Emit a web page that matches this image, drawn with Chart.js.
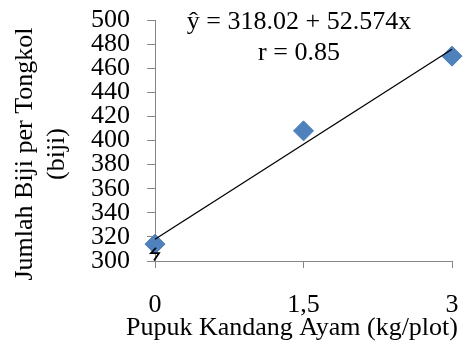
<!DOCTYPE html>
<html lang="id">
<head>
  <meta charset="UTF-8">
  <title>Jumlah Biji per Tongkol</title>
  <style>
    body {
      margin: 0;
      padding: 0;
      background-color: #fff;
    }

    .chart-container {
      width: 466px;
      height: 343px;
    }
  </style>
</head>
<body>

  <div class="chart-container">
    <canvas id="seedChart" width="466" height="343"></canvas>
  </div>

  <script src="https://cdn.jsdelivr.net/npm/chart.js"></script>
  <script>
    // data
    const doses = [0, 1.5, 3];
    const seedCounts = [314, 408, 470];
    const xTickLabels = ['0', '1,5', '3'];
    const trendX = [0, 3];
    const trendY = [318.02, 475.74];
    const equationLines = ['ŷ = 318.02 + 52.574x', 'r = 0.85'];
    const xTitle = 'Pupuk Kandang Ayam (kg/plot)';
    const yTitle = ['Jumlah Biji per Tongkol', '(biji)'];

    const serif = '"Liberation Serif", "Times New Roman", serif';
    const axisGray = '#868686';

    // titles, regression text and the axis break mark
    const annotations = {
      id: 'annotations',
      afterDraw(chart) {
        const ctx = chart.ctx;
        const yScale = chart.scales.y;
        const axisX = chart.chartArea.left;

        ctx.save();
        ctx.fillStyle = '#000';
        ctx.font = '26px ' + serif;
        ctx.textAlign = 'center';
        ctx.textBaseline = 'middle';

        ctx.fillText(equationLines[0], 299, 22);
        ctx.fillText(equationLines[1], 299, 53);

        ctx.fillText(xTitle, 292, 328);

        ctx.translate(25, 154);
        ctx.rotate(-Math.PI / 2);
        ctx.fillText(yTitle[0], 0, 0);
        ctx.fillText(yTitle[1], 0, 32);
        ctx.restore();

        // axis break zigzag
        ctx.save();
        ctx.strokeStyle = '#000';
        ctx.lineWidth = 1.8;
        ctx.lineJoin = 'miter';
        ctx.beginPath();
        ctx.moveTo(axisX + 1, yScale.getPixelForValue(311));
        ctx.lineTo(axisX - 4, yScale.getPixelForValue(306.5));
        ctx.lineTo(axisX + 4, yScale.getPixelForValue(306.5));
        ctx.lineTo(axisX - 1, yScale.getPixelForValue(300.5));
        ctx.stroke();
        ctx.restore();
      }
    };

    // fixed box sizes, no extra label padding from the scales
    function fixBox(size, isX) {
      return scale => {
        if (isX) scale.height = size; else scale.width = size;
        scale.paddingTop = 0;
        scale.paddingBottom = 0;
        scale.paddingLeft = 0;
        scale.paddingRight = 0;
      };
    }

    const ctx = document.getElementById('seedChart').getContext('2d');
    new Chart(ctx, {
      type: 'scatter',
      data: {
        datasets: [{
          type: 'line',
          data: trendX.map((x, i) => ({ x: x, y: trendY[i] })),
          borderColor: '#000',
          borderWidth: 1.3,
          pointRadius: 0,
          fill: false,
          clip: false,
          order: 0
        }, {
          data: doses.map((x, i) => ({ x: x, y: seedCounts[i] })),
          pointStyle: 'rectRot',
          pointRadius: 10,
          backgroundColor: '#4F81BD',
          borderColor: '#4A7EBB',
          borderWidth: 1,
          clip: false,
          order: 1
        }]
      },
      options: {
        responsive: false,
        animation: false,
        layout: {
          padding: { top: 20, right: 14, left: 0, bottom: 0 }
        },
        plugins: {
          legend: { display: false },
          tooltip: { enabled: false }
        },
        scales: {
          x: {
            type: 'linear',
            min: 0,
            max: 3,
            afterFit: fixBox(82, true),
            ticks: {
              stepSize: 1.5,
              autoSkip: false,
              maxRotation: 0,
              padding: 25,
              color: '#000',
              font: { family: serif, size: 26, lineHeight: 0.9 },
              callback: (value, index) => xTickLabels[index]
            },
            grid: {
              drawOnChartArea: false,
              tickLength: 7,
              color: axisGray
            },
            border: { color: axisGray }
          },
          y: {
            min: 300,
            max: 500,
            afterFit: fixBox(155, false),
            ticks: {
              stepSize: 20,
              autoSkip: false,
              padding: 17,
              color: '#000',
              font: { family: serif, size: 26, lineHeight: 0.9 }
            },
            grid: {
              drawOnChartArea: false,
              tickLength: 8,
              color: axisGray
            },
            border: { color: axisGray }
          }
        }
      },
      plugins: [annotations]
    });
  </script>

</body>
</html>
